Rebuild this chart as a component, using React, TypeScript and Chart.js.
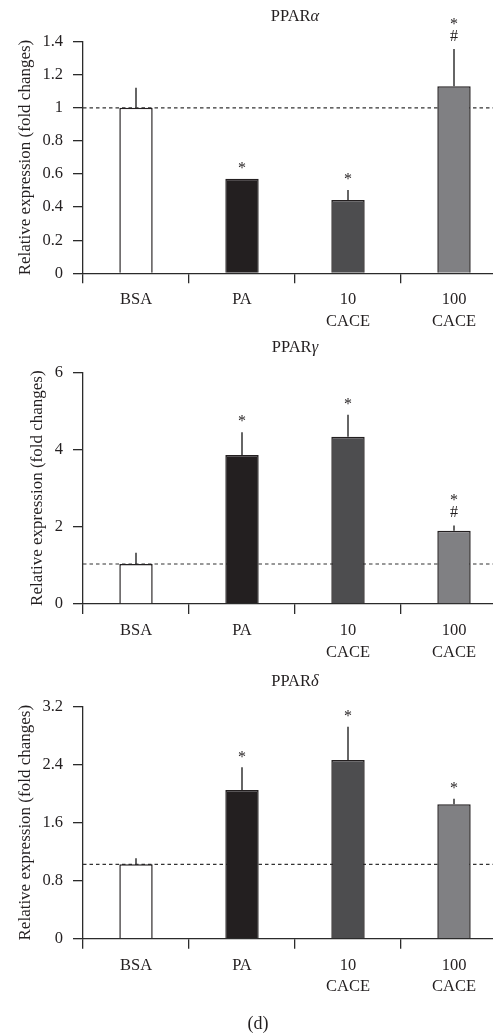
import React, { useEffect, useRef } from 'react';
import { Chart, registerables } from 'chart.js';

Chart.register(...registerables);

// ---------- data ----------
const categories = [['BSA'], ['PA'], ['10', 'CACE'], ['100', 'CACE']];
const barColors = ['#ffffff', '#231f20', '#4d4d4f', '#808083'];

const alphaMeans = [1.0, 0.572, 0.443, 1.131];
const alphaErrors = [0.122, 0, 0.061, 0.225];
const alphaMarks = ['', '*', '*', '*#'];
const alphaTicks = [0, 0.2, 0.4, 0.6, 0.8, 1, 1.2, 1.4];
const alphaRef = 1.0;

const gammaMeans = [1.036, 3.86, 4.33, 1.9];
const gammaErrors = [0.29, 0.59, 0.57, 0.13];
const gammaMarks = ['', '*', '*', '*#'];
const gammaTicks = [0, 2, 4, 6];
const gammaRef = 1.036;

const deltaMeans = [1.026, 2.051, 2.465, 1.854];
const deltaErrors = [0.083, 0.313, 0.459, 0.077];
const deltaMarks = ['', '*', '*', '*'];
const deltaTicks = [0, 0.8, 1.6, 2.4, 3.2];
const deltaRef = 1.026;

const yTitle = 'Relative expression (fold changes)';
const caption = '(d)';

// ---------- style ----------
const FONT = "'Liberation Serif', 'Times New Roman', serif";
const INK = '#231f20';
const AXIS = '#2b2b2b';

type Panel = {
  greek: string;
  means: number[];
  errors: number[];
  marks: string[];
  ticks: number[];
  refValue: number;
  top: number;
  height: number;
  areaTop: number;
  areaBottom: number;
  yTitlePad: number;
};

const panels: Panel[] = [
  { greek: 'α', means: alphaMeans, errors: alphaErrors, marks: alphaMarks, ticks: alphaTicks, refValue: alphaRef,
    top: 0, height: 330, areaTop: 41.7, areaBottom: 273.3, yTitlePad: 15 },
  { greek: 'γ', means: gammaMeans, errors: gammaErrors, marks: gammaMarks, ticks: gammaTicks, refValue: gammaRef,
    top: 330, height: 330, areaTop: 372.3, areaBottom: 604, yTitlePad: 27 },
  { greek: 'δ', means: deltaMeans, errors: deltaErrors, marks: deltaMarks, ticks: deltaTicks, refValue: deltaRef,
    top: 660, height: 376, areaTop: 706.7, areaBottom: 938.7, yTitlePad: 15 },
];

const CANVAS_W = 507;

function PanelChart({ p }: { p: Panel }) {
  const ref = useRef<HTMLCanvasElement | null>(null);
  useEffect(() => {
    if (!ref.current) return;
    const padTop = p.areaTop - p.top;
    const xH = p.top + p.height - p.areaBottom;

    const annot = {
      id: 'annot',
      beforeDatasetsDraw(chart: any) {
        const { ctx, chartArea, scales } = chart;
        const y = scales.y.getPixelForValue(p.refValue);
        ctx.save();
        ctx.strokeStyle = '#333333';
        ctx.lineWidth = 1.2;
        ctx.setLineDash([3.5, 3]);
        ctx.beginPath();
        ctx.moveTo(chartArea.left, y);
        ctx.lineTo(chartArea.right, y);
        ctx.stroke();
        ctx.restore();
      },
      afterDatasetsDraw(chart: any) {
        const { ctx, scales } = chart;
        const meta = chart.getDatasetMeta(0);
        ctx.save();
        meta.data.forEach((bar: any, i: number) => {
          const x = bar.x;
          const yBar = scales.y.getPixelForValue(p.means[i]);
          const yErr = scales.y.getPixelForValue(p.means[i] + p.errors[i]);
          if (p.errors[i] > 0) {
            ctx.strokeStyle = '#333333';
            ctx.lineWidth = 1.5;
            ctx.setLineDash([]);
            ctx.beginPath();
            ctx.moveTo(x, yBar);
            ctx.lineTo(x, yErr);
            ctx.stroke();
          }
          const m = p.marks[i];
          ctx.fillStyle = INK;
          ctx.textAlign = 'center';
          ctx.textBaseline = 'middle';
          ctx.font = `16px ${FONT}`;
          if (m === '*') {
            ctx.fillText('*', x, yErr - 10);
          } else if (m === '*#') {
            ctx.fillText('#', x, yErr - 12.5);
            ctx.fillText('*', x, yErr - 24.5);
          }
        });
        ctx.restore();
      },
      afterDraw(chart: any) {
        const { ctx, chartArea } = chart;
        const cx = (chartArea.left + chartArea.right) / 2;
        const cy = chartArea.top - 24.7;
        ctx.save();
        ctx.fillStyle = INK;
        ctx.textBaseline = 'middle';
        ctx.textAlign = 'left';
        const f1 = `16.5px ${FONT}`;
        const f2 = `italic 16.5px ${FONT}`;
        ctx.font = f1;
        const w1 = ctx.measureText('PPAR').width;
        ctx.font = f2;
        const w2 = ctx.measureText(p.greek).width;
        const x0 = cx - (w1 + w2) / 2;
        ctx.font = f1;
        ctx.fillText('PPAR', x0, cy);
        ctx.font = f2;
        ctx.fillText(p.greek, x0 + w1, cy);
        ctx.restore();
      },
    };

    const chart = new Chart(ref.current, {
      type: 'bar',
      data: {
        labels: categories as any,
        datasets: [
          {
            data: p.means,
            backgroundColor: barColors,
            borderColor: INK,
            borderWidth: 1.5,
            barPercentage: 0.315,
            categoryPercentage: 1,
          },
        ],
      },
      options: {
        animation: false,
        responsive: false,
        devicePixelRatio: 1,
        layout: { padding: { top: padTop, left: 0, right: 0, bottom: 0 } },
        plugins: { legend: { display: false }, tooltip: { enabled: false }, title: { display: false } },
        scales: {
          x: {
            type: 'category',
            afterFit: (s: any) => { s.height = xH; },
            ticks: {
              color: INK,
              padding: 6,
              maxRotation: 0,
              autoSkip: false,
              font: { family: FONT, size: 16.5, lineHeight: 1.3 },
            },
            grid: { offset: true, drawOnChartArea: false, drawTicks: true, tickLength: 10, color: AXIS, lineWidth: 1.3 },
            border: { display: true, color: AXIS, width: 1.3 },
          },
          y: {
            min: 0,
            max: p.ticks[p.ticks.length - 1],
            afterFit: (s: any) => { s.width = 83; },
            afterBuildTicks: (s: any) => { s.ticks = p.ticks.map((v) => ({ value: v })); },
            ticks: {
              color: INK,
              padding: 10,
              font: { family: FONT, size: 16.5 },
              callback: (v: any) => String(v),
            },
            grid: { drawOnChartArea: false, drawTicks: true, tickLength: 10, color: AXIS, lineWidth: 1.3 },
            border: { display: true, color: AXIS, width: 1.3 },
            title: {
              display: true,
              text: yTitle,
              color: INK,
              font: { family: FONT, size: 17 },
              padding: { top: p.yTitlePad, bottom: 0 },
            },
          },
        },
      },
      plugins: [annot],
    } as any);
    return () => chart.destroy();
  }, [p]);

  return (
    <canvas
      ref={ref}
      width={CANVAS_W}
      height={p.height}
      style={{ position: 'absolute', left: 0, top: p.top, width: CANVAS_W, height: p.height, display: 'block' }}
    />
  );
}

export default function App() {
  return (
    <div
      style={{
        position: 'relative',
        margin: '-8px 0 0 -8px',
        width: 501,
        height: 1036,
        overflow: 'hidden',
        background: '#ffffff',
      }}
    >
      {panels.map((p, i) => (
        <PanelChart key={i} p={p} />
      ))}
      <div
        style={{
          position: 'absolute',
          left: 0,
          width: 516,
          top: 1012,
          height: 22,
          lineHeight: '22px',
          textAlign: 'center',
          fontFamily: FONT,
          fontSize: 18,
          color: INK,
        }}
      >
        {caption}
      </div>
    </div>
  );
}
